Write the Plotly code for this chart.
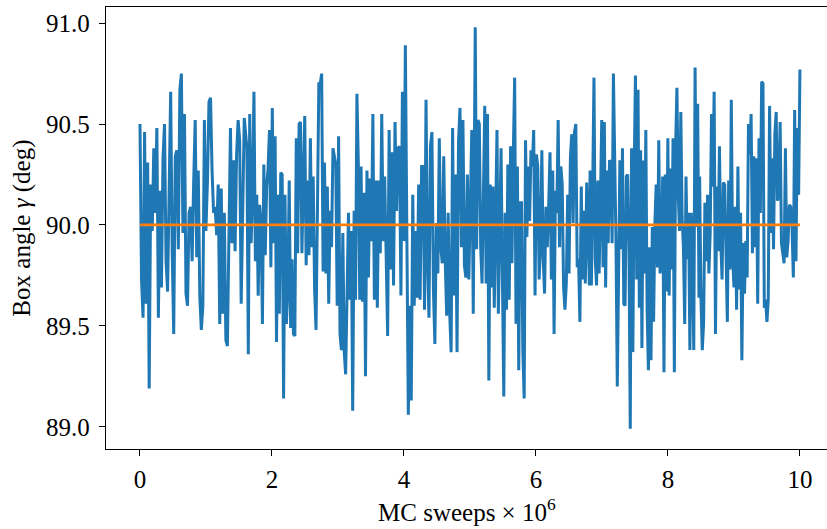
import numpy as np
import plotly.graph_objects as go

# Box angle gamma (deg), in sweep order,
# split into six consecutive stretches of the run
gamma_part1 = [
    90.50, 89.73, 89.54, 90.46, 89.61, 90.31, 89.19, 90.20, 89.97, 90.38,
    90.06, 90.48, 89.54, 90.17, 89.69, 90.33, 90.50, 89.82, 89.67, 90.24,
    90.66, 89.87, 89.46, 90.34, 90.37, 89.88, 90.67, 90.75, 89.96, 90.55,
    89.66, 89.60, 90.06, 90.09, 89.82, 90.21, 90.52, 89.84, 90.27, 89.65,
    89.48, 89.60, 90.52, 89.97, 90.22, 90.61, 90.63, 90.27, 90.06, 90.09,
    89.95, 90.20, 89.51, 90.18, 89.56, 90.06, 89.43, 89.40, 89.94, 90.48,
    89.91, 90.32, 89.87, 90.35, 90.52, 90.42, 89.61, 89.99, 90.53,
]
gamma_part2 = [
    90.38, 89.36, 90.55, 89.91, 90.16, 90.66, 89.82, 90.15, 89.65, 90.10,
    90.02, 89.51, 90.30, 89.85, 90.19, 90.28, 90.47, 89.79, 90.58, 89.91,
    90.44, 89.42, 90.15, 89.56, 90.26, 90.25, 89.14, 90.15, 89.51, 89.68,
    90.22, 89.49, 89.83, 89.46, 89.45, 90.43, 89.86, 90.50, 90.51, 89.86,
    90.20, 90.54, 89.80, 90.22, 89.85, 90.43, 89.89, 90.24, 89.68, 89.48,
    90.07, 90.70, 90.70, 90.75, 89.77, 90.31, 89.76, 90.19, 89.61, 90.07,
    89.89, 90.38, 90.34, 90.30, 89.60, 90.44, 89.46, 89.38, 89.96, 89.37,
    89.26, 89.67, 90.06, 89.63, 89.97, 89.08, 90.07, 89.63, 90.65, 90.30,
    89.63,
]
gamma_part3 = [
    90.29, 89.62, 90.16, 89.25, 90.27, 89.74, 90.23, 89.92, 90.55, 89.63,
    90.22, 89.59, 90.22, 89.86, 90.55, 89.92, 90.24, 89.82, 89.45, 90.47,
    89.78, 90.36, 89.70, 90.51, 90.07, 90.38, 90.39, 89.65, 90.66, 89.92,
    90.89, 89.97, 89.06, 89.60, 89.13, 90.15, 89.60, 89.97, 89.64, 90.20,
    89.63, 90.29, 90.29, 89.58, 90.62, 89.83, 89.54, 90.39, 90.46, 89.68,
    89.41, 90.01, 89.76, 90.43, 89.89, 89.81, 90.34, 89.82, 89.55, 90.06,
    89.57, 89.37, 90.48, 89.65, 90.25, 89.37, 90.41, 90.58, 89.89, 90.52,
    89.80, 89.74, 90.25, 89.73, 90.11, 90.47, 89.56,
]
gamma_part4 = [
    90.98, 89.88, 90.52, 90.50, 89.89, 89.71, 90.15, 90.59, 89.71, 90.55,
    89.23, 90.20, 89.69, 90.19, 89.59, 89.99, 90.47, 89.56, 90.09, 90.38,
    89.73, 89.15, 90.06, 89.58, 90.30, 89.63, 90.39, 89.81, 90.35, 90.73,
    89.51, 90.29, 89.28, 90.11, 90.11, 89.38, 89.14, 90.42, 89.94, 90.29,
    90.02, 90.37, 90.29, 90.47, 89.65, 90.35, 90.29, 89.73, 89.89, 90.37,
    89.83, 89.66, 90.09, 89.89, 90.09, 90.36, 89.73, 90.27, 89.46, 90.17,
    90.06, 90.52, 89.89, 90.29, 90.20, 89.69, 89.58, 89.71, 90.15, 89.76,
    90.33, 90.45, 90.01, 90.46, 90.50, 89.79, 89.83, 89.52, 90.19, 89.73,
    90.07, 89.71, 90.21, 89.92, 89.70,
]
gamma_part5 = [
    90.27, 89.70, 90.17, 90.73, 89.83, 89.70, 90.22, 89.76, 90.12, 90.52,
    89.79, 90.51, 89.69, 90.27, 89.91, 90.32, 90.31, 89.91, 90.75, 90.37,
    89.91, 89.20, 89.68, 90.32, 89.88, 90.38, 89.61, 89.60, 90.24, 90.25,
    89.88, 88.99, 90.38, 89.37, 90.25, 90.74, 89.73, 90.67, 89.59, 90.37,
    89.39, 90.32, 89.76, 90.47, 89.58, 89.28, 89.89, 89.33, 89.99, 89.52,
    90.01, 90.20, 89.79, 90.42, 89.76, 89.83, 90.24, 89.27, 90.25, 89.67,
    90.43, 89.65, 90.28, 89.78, 90.43, 89.27, 90.39, 90.68, 90.15, 89.97,
    90.56, 90.04, 89.89, 89.51, 90.24, 89.83, 90.06, 89.38, 90.06, 89.84,
    89.38, 90.78, 89.99, 90.60, 89.64,
]
gamma_part6 = [
    90.24, 89.64, 89.38, 89.51, 90.11, 89.82, 90.15, 89.76, 89.96, 90.55,
    90.19, 90.66, 89.46, 90.19, 89.87, 90.39, 89.92, 89.73, 90.21, 90.20,
    89.89, 89.52, 90.22, 89.78, 90.62, 89.84, 89.69, 90.09, 89.58, 90.29,
    89.68, 90.06, 89.33, 89.91, 89.66, 89.92, 89.74, 90.50, 90.35, 90.55,
    89.86, 90.34, 89.89, 90.33, 89.61, 90.43, 90.06, 90.71, 90.70, 89.59,
    89.63, 89.52, 89.63, 90.59, 89.96, 90.33, 89.88, 90.45, 90.56, 90.12,
    90.15, 90.51, 89.91, 89.86, 89.81, 90.38, 89.84, 89.92, 90.10, 90.09,
    89.99, 89.74, 90.57, 89.82, 90.48, 90.15, 90.77,
]
gamma_parts = [gamma_part1, gamma_part2, gamma_part3,
               gamma_part4, gamma_part5, gamma_part6]

# MC sweeps (x 10^6) spanned by each stretch
part_sweep_ranges = [(0.00, 1.58), (1.62, 3.33), (3.35, 5.05),
                     (5.08, 6.81), (6.82, 8.47), (8.48, 10.00)]

sweeps = np.concatenate([np.linspace(a, b, len(p))
                         for (a, b), p in zip(part_sweep_ranges, gamma_parts)])
gamma = np.concatenate([np.asarray(p) for p in gamma_parts])

mean_x = [0.0, 10.0]
mean_gamma = [90.0, 90.0]

x_ticks = [0, 2, 4, 6, 8, 10]
y_ticks = [89.0, 89.5, 90.0, 90.5, 91.0]
y_tick_labels = ["89.0", "89.5", "90.0", "90.5", "91.0"]

fig = go.Figure()
fig.add_trace(go.Scatter(x=sweeps, y=gamma, mode="lines",
                         line=dict(color="#1f77b4", width=3),
                         showlegend=False, hoverinfo="skip"))
fig.add_trace(go.Scatter(x=mean_x, y=mean_gamma, mode="lines",
                         line=dict(color="#ff7f0e", width=2.8),
                         showlegend=False, hoverinfo="skip"))

font_family = "Liberation Serif, Times New Roman, serif"
fs = 25
fig.update_layout(
    width=827, height=529,
    margin=dict(l=106, r=0, t=7, b=80, autoexpand=False),
    paper_bgcolor="white", plot_bgcolor="white",
    font=dict(family=font_family, size=fs, color="black"),
    xaxis=dict(range=[-0.515, 10.41], tickvals=x_ticks,
               ticks="outside", ticklen=6, tickwidth=1.2, tickcolor="black",
               showline=True, linecolor="black", linewidth=1.3, mirror=True,
               showgrid=False, zeroline=False, automargin=False,
               tickfont=dict(size=fs), ticklabelstandoff=2),
    yaxis=dict(range=[88.89, 91.08], tickvals=y_ticks, ticktext=y_tick_labels,
               ticks="outside", ticklen=6, tickwidth=1.2, tickcolor="black",
               showline=True, linecolor="black", linewidth=1.3, mirror=False,
               showgrid=False, zeroline=False, automargin=False,
               tickfont=dict(size=fs), ticklabelstandoff=4),
    annotations=[
        dict(text="MC sweeps × 10<sup>6</sup>", xref="paper", yref="paper",
             x=0.5, y=-0.138, xanchor="center", yanchor="middle",
             showarrow=False, font=dict(size=fs)),
        dict(text="Box angle <i>γ</i> (deg)", xref="paper", yref="paper",
             x=-0.117, y=0.5, xanchor="center", yanchor="middle",
             textangle=-90, showarrow=False, font=dict(size=fs)),
    ],
)

fig.write_html("out.html",
               config={"displayModeBar": False},
               post_script="document.body.style.margin='0';"
                           "document.body.style.padding='0';")
